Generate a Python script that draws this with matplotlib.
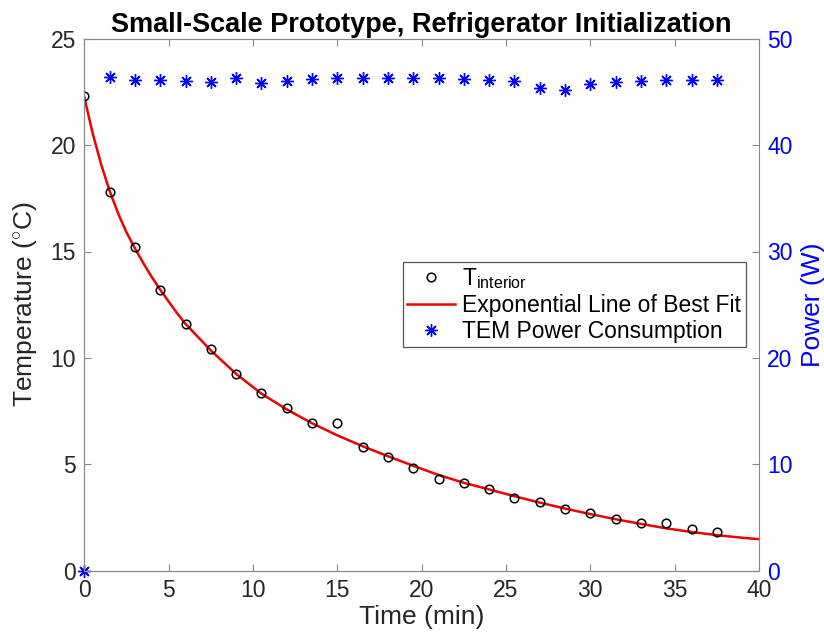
import matplotlib
matplotlib.use("Agg")
import matplotlib.pyplot as plt

plt.rcParams["font.family"] = ["Liberation Sans", "DejaVu Sans"]
plt.rcParams["mathtext.fontset"] = "custom"
plt.rcParams["mathtext.rm"] = "Liberation Sans"
plt.rcParams["mathtext.it"] = "Liberation Sans:italic"

# measurement times (min)
time_min = [0, 1.5, 3, 4.5, 6, 7.5, 9, 10.5, 12, 13.5, 15, 16.5, 18, 19.5,
            21, 22.5, 24, 25.5, 27, 28.5, 30, 31.5, 33, 34.5, 36, 37.5]
# interior temperature (C)
temp_c = [22.32, 17.78, 15.20, 13.19, 11.58, 10.40, 9.24, 8.34, 7.63, 6.93,
          6.93, 5.80, 5.33, 4.84, 4.30, 4.11, 3.84, 3.42, 3.21, 2.91, 2.70,
          2.43, 2.23, 2.23, 1.95, 1.83]
# TEM power (W)
power_w = [0.0, 46.4, 46.15, 46.1, 46.0, 45.9, 46.3, 45.85, 46.0, 46.2, 46.3,
           46.3, 46.35, 46.3, 46.3, 46.2, 46.1, 46.0, 45.4, 45.2, 45.7, 45.9,
           46.05, 46.15, 46.1, 46.1]
# exponential fit curve
fit_t = [0, 0.5, 1, 1.5, 2, 2.5, 3, 3.5, 4, 4.5, 5, 5.5, 6, 7.5, 9, 10.5, 12,
         13.5, 15, 16.5, 18, 19.5, 21, 22.5, 24, 25.5, 27, 28.5, 30, 31.5, 33,
         34.5, 36, 37.5, 39, 40]
fit_c = [22.25, 20.54, 19.09, 17.85, 16.8, 15.9, 15.15, 14.45, 13.8, 13.2,
         12.65, 12.1, 11.6, 10.35, 9.25, 8.32, 7.58, 6.93, 6.36, 5.85, 5.38,
         4.93, 4.5, 4.13, 3.82, 3.5, 3.2, 2.92, 2.66, 2.42, 2.2, 1.99, 1.82,
         1.67, 1.55, 1.48]

GRAY = "#262626"
SPINE = "#8a8a8a"
BLUE = "#0000ff"
RSPINE = "#8080bb"

fig = plt.figure(figsize=(8.24, 6.33), dpi=100)
ax = fig.add_axes([84.3 / 824, 1 - 570.7 / 633, (759 - 84.3) / 824, (570.7 - 38.7) / 633])
ax2 = ax.twinx()

h1, = ax.plot(time_min, temp_c, "o", ms=6.2, mfc="none", mec="black", mew=1.1,
              label=r"T$_{\mathrm{interior}}$", zorder=3)
h2, = ax.plot(fit_t, fit_c, "-", color="#ee0000", lw=1.8,
              label="Exponential Line of Best Fit", zorder=2)
h3, = ax2.plot(time_min, power_w, ls="none", marker=(8, 2, 0), ms=9, mec=BLUE,
               mew=1.0, color=BLUE, label="TEM Power Consumption", clip_on=False)

ax.set_xlim(0, 40)
ax.set_ylim(0, 25)
ax2.set_ylim(0, 50)
ax.set_xticks(range(0, 41, 5))
ax.set_yticks(range(0, 26, 5))
ax2.set_yticks(range(0, 51, 10))

ax.tick_params(axis="x", direction="in", top=True, length=5, width=0.8,
               color=SPINE, labelcolor=GRAY, labelsize=16.5, pad=6)
ax.tick_params(axis="y", direction="in", right=False, length=5, width=0.8,
               color=SPINE, labelcolor=GRAY, labelsize=16.5, pad=6)
ax2.tick_params(axis="y", direction="in", length=5, width=0.8,
                color=RSPINE, labelcolor=BLUE, labelsize=16.5, pad=6)

for s in ["left", "bottom", "top"]:
    ax.spines[s].set_color(SPINE)
    ax2.spines[s].set_color(SPINE)
ax2.spines["right"].set_color(RSPINE)
ax.spines["right"].set_visible(False)

ax.set_xlabel("Time (min)", fontsize=19, color=GRAY, labelpad=2)
ax.set_ylabel(r"Temperature ($^{\circ}$C)", fontsize=19, color=GRAY, labelpad=8)
ax2.set_ylabel("Power (W)", fontsize=19, color=BLUE, labelpad=6)
ax.set_title("Small-Scale Prototype, Refrigerator Initialization",
             fontsize=19.5, fontweight="bold", pad=5)

leg = ax2.legend(handles=[h1, h2, h3], loc="upper left",
                 bbox_to_anchor=(0.472, 0.581), fontsize=16.5, frameon=True,
                 fancybox=False, framealpha=1, edgecolor="#555555",
                 borderpad=0.2, labelspacing=0.12, handlelength=2.1,
                 handletextpad=0.3, borderaxespad=0)
leg.get_frame().set_linewidth(0.9)

fig.savefig("out.png", dpi=100)
